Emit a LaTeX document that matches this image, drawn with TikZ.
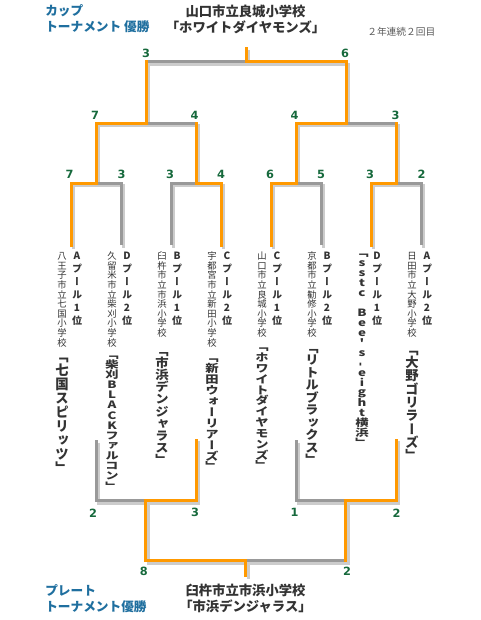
\documentclass[tikz,border=0pt]{standalone}
\usepackage{fontspec}
\usepackage{graphicx}
\setmainfont{Noto Sans CJK JP}
\newfontfamily\tatefont{Noto Sans CJK JP}[RawFeature=+vert]
\newfontfamily\scorefont{DejaVu Sans}
\usetikzlibrary{positioning}

\definecolor{winorange}{HTML}{FF9900}
\definecolor{losegray}{HTML}{999999}
\definecolor{shadowgray}{HTML}{CCCCCC}
\definecolor{scoregreen}{HTML}{16693C}
\definecolor{labelblue}{HTML}{1F6F9F}
\definecolor{titlegray}{HTML}{333333}

% vertical (tate) text: one cell per character
\makeatletter
\newcommand\tate[2][1em]{%
  \vbox{\offinterlineskip\def\tate@pitch{#1}%
    \@tfor\tate@c:=#2\do{\tate@cell}}}
\newcommand\tate@cell{%
  \vbox to \tate@pitch{\vss\hbox to 1em{\hss\vrule height .88em depth .12em width 0pt\tate@c\hss}\vss}}
\makeatother
\newcommand\tatefit[2]{\resizebox*{\width}{#1}{\tate{#2}}}

% bracket lines (losers first, winners on top)
\newcommand\cuplines{%
  \draw[lose] (cup2) |- (qf1);
  \draw[lose] (cup3) |- (qf2);
  \draw[lose] (cup6) |- (qf3);
  \draw[lose] (cup8) |- (qf4);
  \draw[lose] (qf2 |- sf1) -- (sf1);
  \draw[lose] (qf4 |- sf2) -- (sf2);
  \draw[lose] (sf1 |- fin) -- (fin);
  \draw[win] (cup1) |- (qf1);
  \draw[win] (cup4) |- (qf2);
  \draw[win] (cup5) |- (qf3);
  \draw[win] (cup7) |- (qf4);
  \draw[win] (qf1) |- (sf1);
  \draw[win] (qf2) -- (qf2 |- sf1);
  \draw[win] (qf3) |- (sf2);
  \draw[win] (qf4) -- (qf4 |- sf2);
  \draw[win] (sf1) -- (sf1 |- fin);
  \draw[win] (sf2) |- (fin);
  \draw[win] (fin) -- (champ);
}
\newcommand\platelines{%
  \draw[lose] (pl1) |- (pq1);
  \draw[lose] (pl3) |- (pq2);
  \draw[lose] (pq2 |- pfin) -- (pfin);
  \draw[win] (pl2) |- (pq1);
  \draw[win] (pl4) |- (pq2);
  \draw[win] (pq1) |- (pfin);
  \draw[win] (pq2) -- (pq2 |- pfin);
  \draw[win] (pfin) -- (pchamp);
}

\begin{document}
\begin{tikzpicture}[x=0.75pt, y=-0.75pt,
  win/.style={draw=winorange, line width=2.25pt, line cap=rect},
  lose/.style={draw=losegray, line width=2.25pt},
  score/.style={inner sep=0pt, text=scoregreen, font=\scorefont\bfseries\fontsize{8.5pt}{9pt}\selectfont},
  pool/.style={anchor=north, inner sep=0pt, text=titlegray, font=\tatefont\bfseries\fontsize{7.5pt}{8pt}\selectfont},
  school/.style={anchor=north, inner sep=0pt, text=titlegray, font=\tatefont\fontsize{7pt}{8pt}\selectfont},
  teamname/.style={anchor=north, inner sep=0pt, text=titlegray, font=\tatefont\bfseries\fontsize{10pt}{11pt}\selectfont},
  tourlabel/.style={anchor=base west, inner sep=0pt, align=left, text=labelblue, font=\bfseries\fontsize{9.5pt}{12pt}\selectfont},
  winner/.style={anchor=base, inner sep=0pt, align=center, text=titlegray, font=\bfseries\fontsize{10pt}{12pt}\selectfont},
  note/.style={anchor=base west, inner sep=0pt, text=titlegray!80, font=\fontsize{7.3pt}{8pt}\selectfont}
]
\path[use as bounding box, fill=white] (0,0) rectangle (480,620);

% headings (base = last line)
\node[tourlabel] (cuplabel) at (45,32) {カップ\\トーナメント 優勝};
\node[winner] (cupwinner) at (245.5,33) {山口市立良城小学校\\「ホワイトダイヤモンズ」};
\node[note] (streak) at (367,36) {２年連続２回目};
\node[tourlabel] (platelabel) at (45,611) {プレート\\トーナメント優勝};
\node[winner] (platewinner) at (245.5,611.5) {臼杵市立市浜小学校\\「市浜デンジャラス」};

% cup bracket points
\coordinate (cup1) at (71,245);
\coordinate (cup2) at (121,245);
\coordinate (cup3) at (171,245);
\coordinate (cup4) at (221,245);
\coordinate (cup5) at (271,245);
\coordinate (cup6) at (321,245);
\coordinate (cup7) at (371,245);
\coordinate (cup8) at (421,245);
\coordinate (qf1) at (96,183.5);
\coordinate (qf2) at (196,183.5);
\coordinate (qf3) at (296,183.5);
\coordinate (qf4) at (396,183.5);
\coordinate (sf1) at (146,123.5);
\coordinate (sf2) at (346,123.5);
\coordinate (fin) at (246,62);
\coordinate (champ) at (246,49);

% plate bracket points
\coordinate (pl1) at (96,440);
\coordinate (pl2) at (196,440);
\coordinate (pl3) at (296,440);
\coordinate (pl4) at (396,440);
\coordinate (pq1) at (145.5,500.5);
\coordinate (pq2) at (345.5,500.5);
\coordinate (pfin) at (245.5,560.5);
\coordinate (pchamp) at (245.5,575);

% shadow, then lines
\begin{scope}[transform canvas={shift={(2.5,2.5)}},
  win/.style={draw=shadowgray, line width=2.25pt, line cap=rect},
  lose/.style={draw=shadowgray, line width=2.25pt}]
  \cuplines
  \platelines
\end{scope}
\cuplines
\platelines

% scores
\node[score] (sc-f1) at (146,53.5) {3};
\node[score] (sc-f2) at (345,53.5) {6};
\node[score] (sc-s1) at (95,115.5) {7};
\node[score] (sc-s2) at (194.5,115.5) {4};
\node[score] (sc-s3) at (294.5,115.5) {4};
\node[score] (sc-s4) at (395.5,115.5) {3};
\node[score] (sc-q1) at (69.5,174) {7};
\node[score] (sc-q2) at (121.5,174) {3};
\node[score] (sc-q3) at (170,174) {3};
\node[score] (sc-q4) at (221,174) {4};
\node[score] (sc-q5) at (270,174) {6};
\node[score] (sc-q6) at (321,174) {5};
\node[score] (sc-q7) at (370,174) {3};
\node[score] (sc-q8) at (421.5,174) {2};
\node[score] (sc-p1) at (93,512.8) {2};
\node[score] (sc-p2) at (195,512.8) {3};
\node[score] (sc-p3) at (294.5,512.8) {1};
\node[score] (sc-p4) at (396.5,512.8) {2};
\node[score] (sc-pf1) at (143.7,571) {8};
\node[score] (sc-pf2) at (347,571) {2};

% teams
\node[pool] (pool1) at (77,249) {\tate[1.3em]{Aプール1位}};
\node[school] (school1) at (62,251) {\tate[1.03em]{八王子市立七国小学校}};
\node[teamname] (team1) at (62,349) {\tatefit{94.5pt}{「七国スピリッツ」}};

\node[pool] (pool2) at (127,249) {\tate[1.3em]{Dプール2位}};
\node[school] (school2) at (112,251) {\tate[1.03em]{久留米市立柴刈小学校}};
\node[teamname] (team2) at (112,349) {\tatefit{106.5pt}{「柴刈BLACKファルコン」}};

\node[pool] (pool3) at (177,249) {\tate[1.3em]{Bプール1位}};
\node[school] (school3) at (162,251) {\tate[1.03em]{臼杵市立市浜小学校}};
\node[teamname] (team3) at (162,344) {\tatefit{91.5pt}{「市浜デンジャラス」}};

\node[pool] (pool4) at (227,249) {\tate[1.3em]{Cプール2位}};
\node[school] (school4) at (212,251) {\tate[1.03em]{宇都宮市立新田小学校}};
\node[teamname] (team4) at (212,352) {\tatefit{90pt}{「新田ウォーリアーズ」}};

\node[pool] (pool5) at (277,249) {\tate[1.3em]{Cプール1位}};
\node[school] (school5) at (262,251) {\tate[1.03em]{山口市立良城小学校}};
\node[teamname] (team5) at (262,341) {\tatefit{97.5pt}{「ホワイトダイヤモンズ」}};

\node[pool] (pool6) at (327,249) {\tate[1.3em]{Bプール2位}};
\node[school] (school6) at (312,251) {\tate[1.03em]{京都市立勧修小学校}};
\node[teamname] (team6) at (312,341) {\tatefit{93.75pt}{「リトルブラックス」}};

\node[pool] (pool7) at (377,249) {\tate[1.3em]{Dプール1位}};
\node[teamname] (team7) at (362,247) {\tatefit{150pt}{「sstc{~}Bee's{\rotatebox[origin=c]{90}{-}}eight横浜」}};

\node[pool] (pool8) at (427,249) {\tate[1.3em]{Aプール2位}};
\node[school] (school8) at (412,251) {\tate[1.03em]{日田市立大野小学校}};
\node[teamname] (team8) at (412,342) {\tatefit{90pt}{「大野ゴリラーズ」}};
\end{tikzpicture}
\end{document}
